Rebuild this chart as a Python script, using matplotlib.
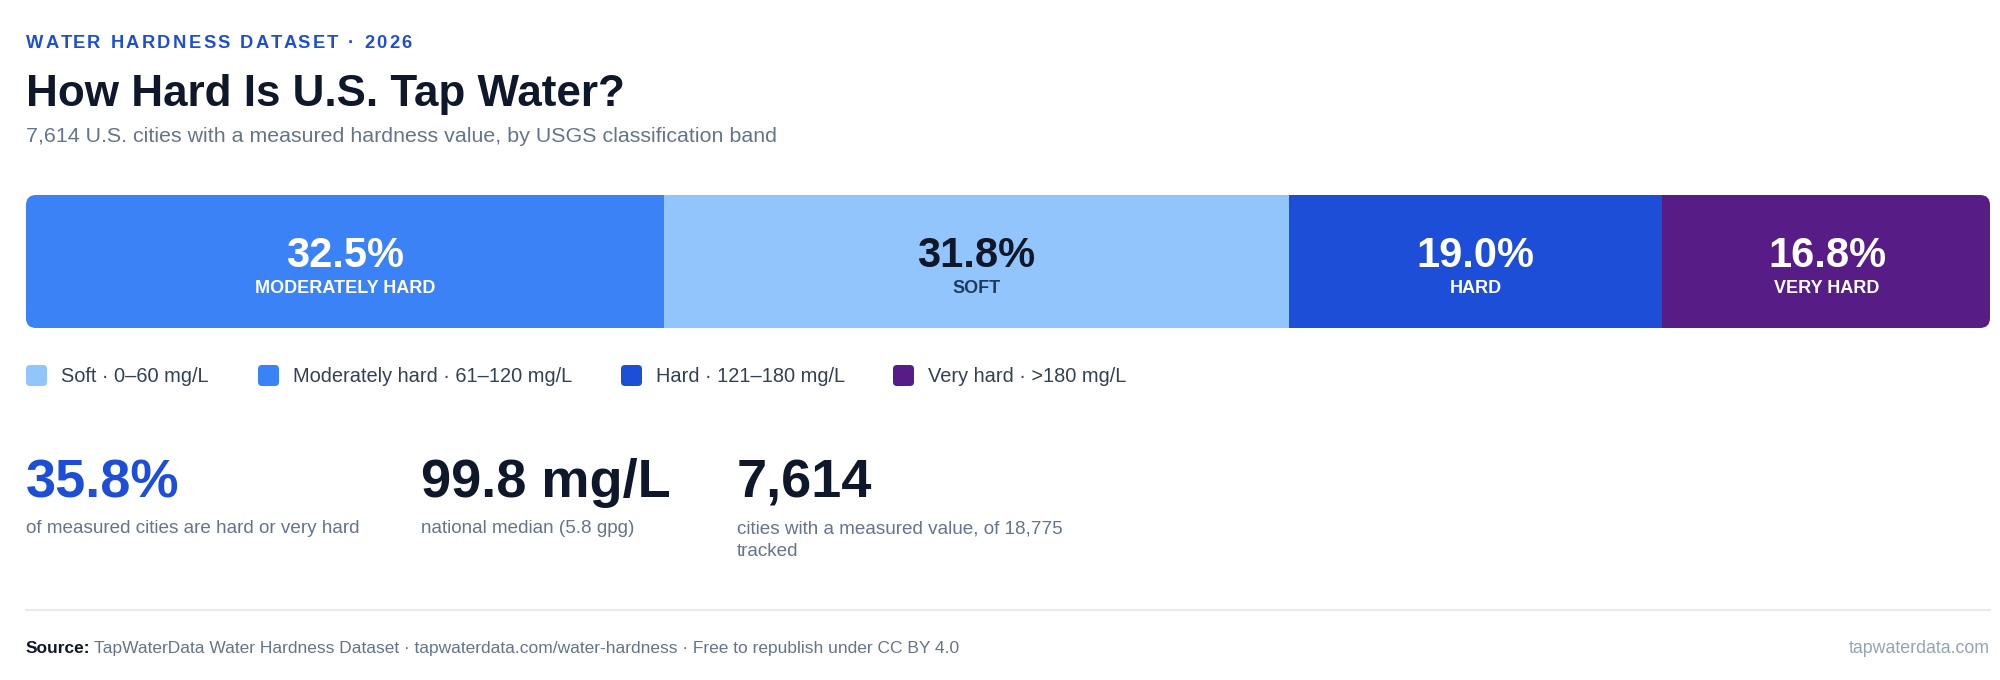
import matplotlib
matplotlib.use("Agg")
import numpy as np
import matplotlib.pyplot as plt
from matplotlib.patches import FancyBboxPatch

plt.rcParams['font.family'] = ['Liberation Sans', 'DejaVu Sans']

# data
bands = ["Soft", "Moderately hard", "Hard", "Very hard"]
band_ranges = ["0–60 mg/L", "61–120 mg/L", "121–180 mg/L", ">180 mg/L"]
shares = [31.8, 32.5, 19.0, 16.8]

stat_values = ["35.8%", "99.8 mg/L", "7,614"]
stat_labels = [
    "of measured cities are hard or very hard",
    "national median (5.8 gpg)",
    "cities with a measured value, of 18,775\ntracked",
]

eyebrow = "WATER HARDNESS DATASET · 2026"
title = "How Hard Is U.S. Tap Water?"
subtitle = "7,614 U.S. cities with a measured hardness value, by USGS classification band"
source_rest = "TapWaterData Water Hardness Dataset · tapwaterdata.com/water-hardness · Free to republish under CC BY 4.0"
site = "tapwaterdata.com"

# styles
band_colors = ["#93c5fd", "#3b82f6", "#1d4ed8", "#581c87"]
pct_colors = ["#0f172a", "white", "white", "white"]
name_colors = ["#1e3a5f", "white", "white", "white"]
stat_colors = ["#1d4ed8", "#0f172a", "#0f172a"]
DARK = "#0f172a"
MUTED = "#64748b"

W, H = 2000, 680
fig = plt.figure(figsize=(W / 100, H / 100), dpi=100)
fig.patch.set_facecolor("white")

# full-figure axes in pixel units (y down) for the text layout
bg = fig.add_axes([0, 0, 1, 1])
bg.set_xlim(0, W)
bg.set_ylim(H, 0)
bg.axis("off")

renderer = fig.canvas.get_renderer()


def text_width(s, **kw):
    t = bg.text(0, 0, s, **kw)
    w = t.get_window_extent(renderer).width
    t.remove()
    return w


def tracked_text(x, y, s, target_width, **kw):
    # matplotlib has no letter-spacing, so place glyphs one by one
    iw = text_width("I", **kw)
    natural = text_width(s + "I", **kw) - iw
    track = (target_width - natural) / (len(s) - 1)
    for i, ch in enumerate(s):
        if ch == " ":
            continue
        xi = x + (text_width(s[:i] + "I", **kw) - iw) + i * track
        bg.text(xi, y, ch, **kw)


# header
tracked_text(26, 48, eyebrow, 386, fontsize=13.2, fontweight="bold",
             color="#1d4ed8", va="baseline", ha="left")
bg.text(26, 106, title, fontsize=31.7, fontweight="bold", color=DARK,
        va="baseline", ha="left")
bg.text(26, 142, subtitle, fontsize=15.4, color=MUTED, va="baseline", ha="left")

# stacked share bar
bar_left, bar_top, bar_w, bar_h = 26, 195, 1964, 133
ax = fig.add_axes([bar_left / W, 1 - (bar_top + bar_h) / H, bar_w / W, bar_h / H])
ax.set_xlim(0, 100)
ax.set_ylim(0, 1)
ax.axis("off")

clip = FancyBboxPatch((bar_left, bar_top), bar_w, bar_h,
                      boxstyle="round,pad=0,rounding_size=10",
                      transform=bg.transData, facecolor="none")

order = np.argsort(shares)[::-1]
left = 0.0
for i in order:
    bars = ax.barh(0.5, shares[i], height=1, left=left, color=band_colors[i],
                   edgecolor="none")
    for b in bars:
        b.set_clip_path(clip)
    mid = left + shares[i] / 2
    ax.text(mid, 0.455, f"{shares[i]:.1f}%", fontsize=30, fontweight="bold",
            color=pct_colors[i], ha="center", va="baseline")
    ax.text(mid, 0.261, bands[i].upper(), fontsize=13, fontweight="bold",
            color=name_colors[i], ha="center", va="baseline")
    left += shares[i]

# legend
legend_x = [26, 258, 621, 893]
for i, band in enumerate(bands):
    x = legend_x[i]
    bg.add_patch(FancyBboxPatch((x, 365), 21, 21,
                                boxstyle="round,pad=0,rounding_size=4",
                                facecolor=band_colors[i], edgecolor="none"))
    bg.text(x + 35, 376, f"{band} · {band_ranges[i]}", fontsize=14.4,
            color="#334155", va="center", ha="left")

# headline stats
stat_x = [26, 421, 737]
for i, val in enumerate(stat_values):
    bg.text(stat_x[i], 497, val, fontsize=39, fontweight="bold",
            color=stat_colors[i], va="baseline", ha="left")
    for j, line in enumerate(stat_labels[i].split("\n")):
        bg.text(stat_x[i], 533 + j * 23, line, fontsize=13.6, color=MUTED,
                va="baseline", ha="left")

# footer
bg.plot([26, 1990], [610, 610], color="#e2e8f0", lw=1.2)
bg.text(26, 653, "Source:", fontsize=12.5, fontweight="bold", color=DARK,
        va="baseline", ha="left")
src_w = text_width("Source:", fontsize=12.5, fontweight="bold")
bg.text(26 + src_w + 4, 653, source_rest, fontsize=12.5, color=MUTED,
        va="baseline", ha="left")
bg.text(1990, 653, site, fontsize=12.8, color="#94a3b8", va="baseline", ha="right")

fig.savefig("out.png", dpi=100, facecolor="white")
